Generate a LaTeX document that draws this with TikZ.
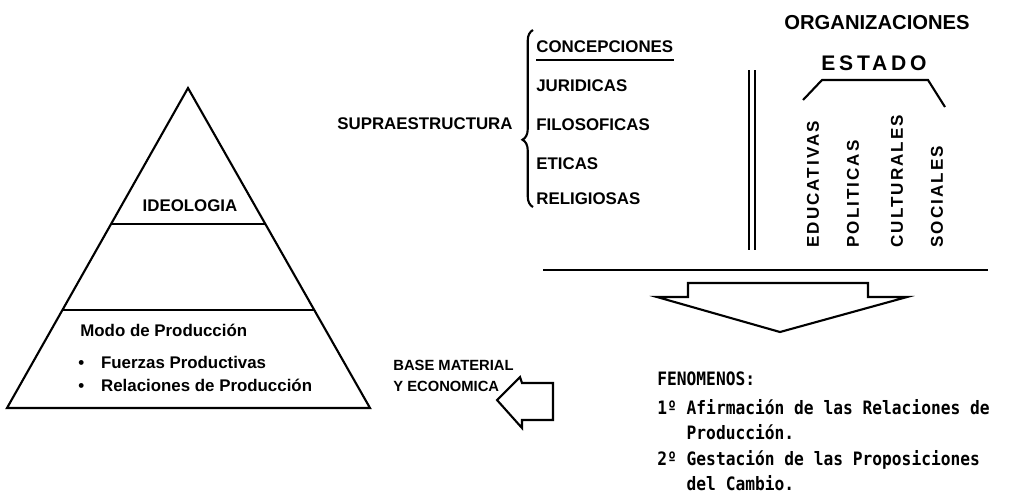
\documentclass[tikz,border=0pt]{standalone}
\usepackage{fontspec}
\setmainfont{Liberation Sans}
\newfontfamily\typewfont[FakeStretch=0.88]{DejaVu Sans Mono}
\usetikzlibrary{calc,decorations.pathreplacing}

\tikzset{
  boldtext/.style={font=\bfseries\fontsize{9.6}{11}\selectfont, inner sep=0pt},
  headtext/.style={font=\bfseries\fontsize{11.5}{13}\selectfont, inner sep=0pt},
  vtext/.style={font=\bfseries\fontsize{9.7}{11}\selectfont\addfontfeature{LetterSpace=12},
    inner sep=0pt, rotate=90, anchor=west},
  typetext/.style={font=\typewfont\bfseries\fontsize{10.5}{14.2}\selectfont,
    inner sep=0pt, anchor=base west, align=left},
  thickline/.style={line width=1.2pt},
}

\begin{document}
\begin{tikzpicture}[x=0.2mm,y=-0.2mm]
\useasboundingbox (0,0) rectangle (1025,495);

% piramide
\coordinate (apex) at (188,88);
\coordinate (bl) at (7,408);
\coordinate (br) at (370,408);
\draw [thickline] (apex) -- (br) -- (bl) -- cycle;
\draw [thickline] ($(apex)!0.425!(bl)$) -- ($(apex)!0.425!(br)$);
\draw [thickline] ($(apex)!0.695!(bl)$) -- ($(apex)!0.695!(br)$);

\node [boldtext] (ideo) at (190,206) {IDEOLOGIA};
\node [boldtext, anchor=base west] (modo) at (80,336) {Modo de Producción};
\node [boldtext, anchor=base west] (fuer) at (78,368) {\textbullet\quad Fuerzas Productivas};
\node [boldtext, anchor=base west] (rela) at (78,391) {\textbullet\quad Relaciones de Producción};

% supraestructura
\node [boldtext, anchor=west] (supra) at (337,124) {SUPRAESTRUCTURA};
\draw [thickline, decorate, decoration={brace, amplitude=6pt, aspect=0.38}] (533,207) -- (533,30);

\node [boldtext, anchor=west] (conc) at (536,47) {CONCEPCIONES};
\draw [thickline] ([yshift=-4pt]conc.south west) -- ([yshift=-4pt]conc.south east);
\node [boldtext, anchor=west] (juri) at (536,86) {JURIDICAS};
\node [boldtext, anchor=west] (filo) at (536,125) {FILOSOFICAS};
\node [boldtext, anchor=west] (etic) at (536,164) {ETICAS};
\node [boldtext, anchor=west] (reli) at (536,199) {RELIGIOSAS};

\draw [thickline] (749,70) -- (749,250);
\draw [thickline] (755,70) -- (755,250);

% organizaciones
\node [headtext] (orga) at (877,23) {ORGANIZACIONES};
\node [headtext, font=\bfseries\fontsize{12}{14}\selectfont\addfontfeature{LetterSpace=18}] (esta) at (874,63) {ESTADO};
\draw [thickline] (803,100) -- (822,80) -- (928,80) -- (945,107);

\node [vtext] (educ) at (813,248) {EDUCATIVAS};
\node [vtext] (poli) at (853,248) {POLITICAS};
\node [vtext] (cult) at (897,248) {CULTURALES};
\node [vtext] (soci) at (937,248) {SOCIALES};

\draw [thickline] (543,270) -- (988,270);

% flechas
\draw [thickline] (688,283) -- (868,283) -- (868,297) -- (907,297) -- (780,332)
  -- (657,297) -- (688,297) -- cycle;
\draw [thickline] (553,383) -- (553,420) -- (522,420) -- (522,428) -- (497,400)
  -- (520,377) -- (522,383) -- cycle;

\node [boldtext, font=\bfseries\fontsize{8.4}{11.4}\selectfont, anchor=base west, align=left] (base)
  at (393,391) {BASE MATERIAL\\Y ECONOMICA};

% fenomenos
\node [typetext] (feno) at (657,385) {FENOMENOS:};
\node [typetext] (fen1) at (657,439) {1º Afirmación de las Relaciones de\\\phantom{1º }Producción.};
\node [typetext] (fen2) at (657,490) {2º Gestación de las Proposiciones\\\phantom{2º }del Cambio.};

\end{tikzpicture}
\end{document}
